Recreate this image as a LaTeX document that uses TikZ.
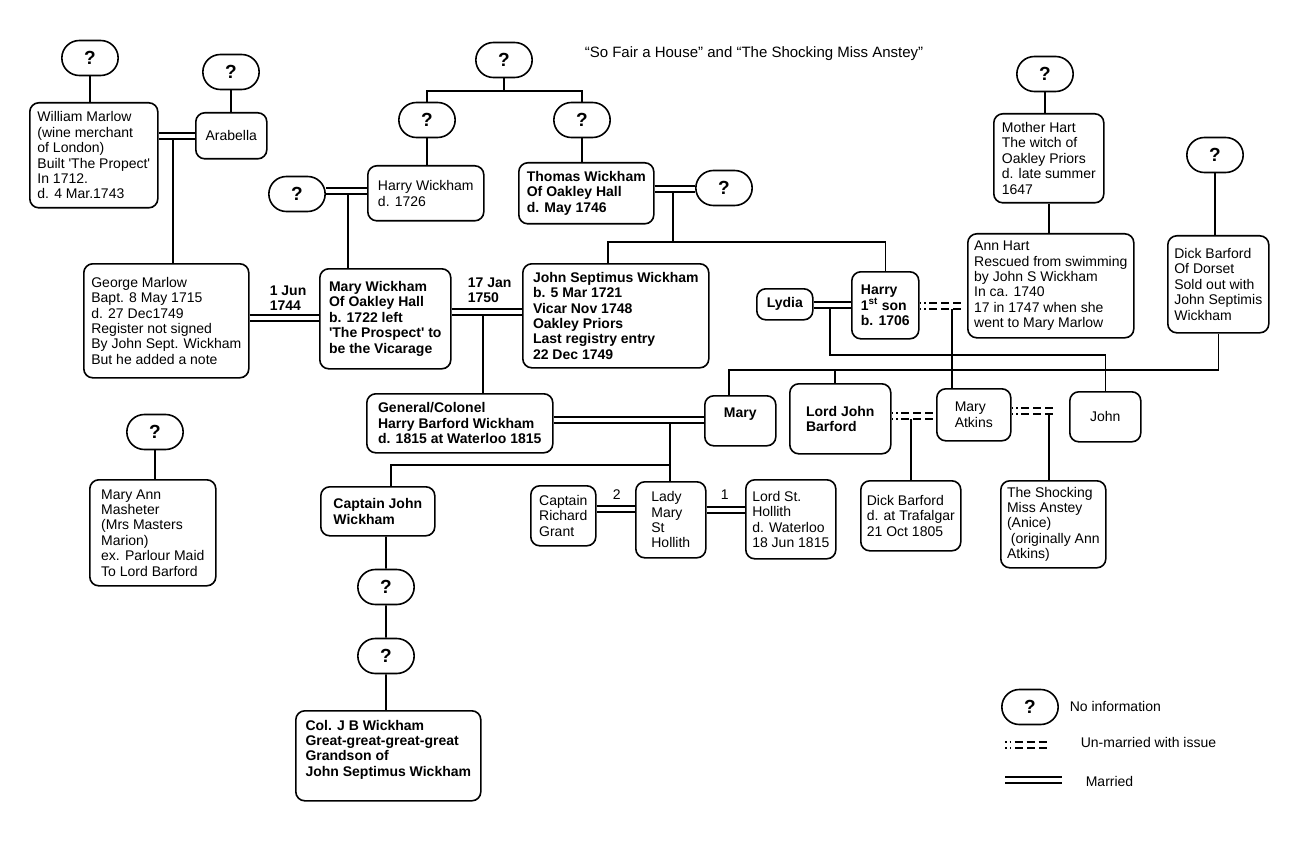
\documentclass[tikz,border=0pt]{standalone}
\usepackage{fontspec}
\newfontfamily\arialf{Liberation Sans}
\usetikzlibrary{shapes.misc}

\newcommand{\fsz}{\arialf\fontsize{14}{15.4}\selectfont}

\tikzset{
  person/.style={draw, rounded corners=9pt, line width=1.6pt, anchor=north west, align=left, inner xsep=2pt, inner ysep=2pt},
  bold/.style={font=\fsz\bfseries},
  qbox/.style={draw, rounded rectangle, line width=1.6pt, minimum width=63pt, minimum height=35pt, font=\arialf\fontsize{19}{20}\selectfont\bfseries},
  lbl/.style={anchor=west, inner sep=0pt, align=left},
  married/.style={double, double distance=4.3pt, line width=1.5pt},
  unwed/.style={married, dash pattern=on 1.5pt off 3pt on 1.5pt off 3.5pt on 8pt off 4pt on 8pt off 4pt on 8pt off 60pt}
}

\begin{document}
\begin{tikzpicture}[x=1pt, y=-1pt, line width=1.6pt, font=\fsz]
        \useasboundingbox (0,0) rectangle (1300,850);

        % заголовок
        \node[lbl, font=\arialf\fontsize{15}{17}\selectfont] (title) at (584,54) {“So Fair a House” and “The Shocking Miss Anstey”};

        % Марлоу
        \node[qbox] (q1) at (90,58) {?};
        \node[qbox] (q2) at (231,72) {?};
        \node[person, minimum width=128pt, minimum height=105pt] (wm) at (29,102) {William Marlow\\(wine merchant\\of London)\\Built 'The Propect'\\In 1712.\\d. 4 Mar.1743};
        \node[person, minimum width=71pt, minimum height=46pt] (ar) at (195,112) {Arabella};
        \node[person, minimum width=165pt, minimum height=114pt] (gm) at (83,263) {George Marlow\\Bapt. 8 May 1715\\d. 27 Dec1749\\Register not signed\\By John Sept. Wickham\\But he added a note};

        % Уикхемы
        \node[qbox] (q3) at (504,60) {?};
        \node[qbox] (q4) at (427,120) {?};
        \node[qbox] (q5) at (582,120) {?};
        \node[qbox] (q6) at (297,194) {?};
        \node[qbox] (q7) at (724,188) {?};
        \node[person, minimum width=116pt, minimum height=55pt] (hw) at (367,165) {Harry Wickham\\d. 1726};
        \node[person, bold, minimum width=135pt, minimum height=61pt] (th) at (518,162) {Thomas Wickham\\Of Oakley Hall\\d. May 1746};
        \node[person, bold, minimum width=131pt, minimum height=100pt] (mw) at (319,268) {Mary Wickham\\Of Oakley Hall\\b. 1722 left\\'The Prospect' to\\be the Vicarage};
        \node[person, bold, minimum width=186pt, minimum height=104pt] (js) at (522,263) {John Septimus Wickham\\b. 5 Mar 1721\\Vicar Nov 1748\\Oakley Priors\\Last registry entry\\22 Dec 1749};
        \node[person, bold, minimum width=56pt, minimum height=31pt] (ly) at (756,288) {Lydia};
        \node[person, bold, minimum width=67pt, minimum height=67pt] (ha) at (851,271) {Harry\\1\textsuperscript{st} son\\b. 1706};

        % даты свадеб
        \node[lbl, bold] (d1) at (269,298) {1 Jun\\1744};
        \node[lbl, bold] (d2) at (467,290) {17 Jan\\1750};

        % Харты
        \node[qbox] (q8) at (1045,74) {?};
        \node[person, minimum width=110pt, minimum height=89pt] (mh) at (993,113) {Mother Hart\\The witch of\\Oakley Priors\\d. late summer\\1647};
        \node[person, minimum width=166pt, minimum height=104pt] (ah) at (967,233) {Ann Hart\\Rescued from swimming\\by John S Wickham\\In ca. 1740\\17 in 1747 when she\\went to Mary Marlow};

        % Барфорды
        \node[qbox] (q9) at (1215,155) {?};
        \node[person, minimum width=101pt, minimum height=97pt] (dd) at (1167,235) {Dick Barford\\Of Dorset\\Sold out with\\John Septimis\\Wickham};
        \node[person, bold, minimum width=186pt, minimum height=59pt] (gen) at (366,393) {General/Colonel\\Harry Barford Wickham\\d. 1815 at Waterloo 1815};
        \node[person, bold, minimum width=71pt, minimum height=50pt] (my) at (704,395) {Mary\\\mbox{}};
        \node[person, bold, minimum width=101pt, minimum height=70pt] (lj) at (789,383) {Lord John\\Barford};
        \node[person, minimum width=74pt, minimum height=52pt] (ma) at (936,388) {Mary\\Atkins};
        \node[person, minimum width=71pt, minimum height=50pt] (jo) at (1069,391) {John};
        \node[person, minimum width=100pt, minimum height=70pt] (dbt) at (860,480) {Dick Barford\\d. at Trafalgar\\21 Oct 1805};
        \node[person, minimum width=105pt, minimum height=87pt] (msa) at (1000,480) {The Shocking\\Miss Anstey\\(Anice)\\\ (originally Ann\\Atkins)};

        % дети генерала
        \node[person, bold, minimum width=114pt, minimum height=49pt] (cj) at (320,486) {Captain John\\Wickham};
        \node[qbox] (q10) at (386,587) {?};
        \node[qbox] (q11) at (386,656) {?};
        \node[person, bold, minimum width=185pt, minimum height=90pt] (cjb) at (295,710) {Col. J B Wickham\\Great-great-great-great\\Grandson of\\John Septimus Wickham\\\mbox{}};
        \node[person, minimum width=65pt, minimum height=60pt] (cr) at (530,485) {Captain\\Richard\\Grant};
        \node[person, minimum width=70pt, minimum height=76pt] (lm) at (635,481) {Lady\\Mary\\St\\Hollith};
        \node[person, minimum width=90pt, minimum height=79pt] (ls) at (745,479) {Lord St.\\Hollith\\d. Waterloo\\18 Jun 1815};
        \node[lbl] (n2) at (612,495) {2};
        \node[lbl] (n1) at (720,495) {1};

        % Мэри Энн
        \node[qbox] (q12) at (155,432) {?};
        \node[person, minimum width=126pt, minimum height=106pt] (mann) at (89,479) {Mary Ann\\Masheter\\(Mrs Masters\\Marion)\\ex. Parlour Maid\\To Lord Barford};

        % линии к детям
        \coordinate (wa) at (173,136);
        \coordinate (t1) at (504,91);
        \coordinate (hm) at (348,191);
        \coordinate (tq) at (673,189);
        \coordinate (t3) at (608,242);
        \coordinate (mj) at (483,312);
        \coordinate (lh) at (830,305);
        \coordinate (t4) at (830,355);
        \coordinate (hh) at (952,309);
        \coordinate (t5) at (729,370);
        \coordinate (t6) at (835,370);
        \coordinate (gy) at (670,420);
        \coordinate (t7) at (670,465);
        \coordinate (t8) at (391,465);
        \coordinate (la) at (911,419);
        \coordinate (aj) at (1049,414);

        \draw (q1.south) -- (q1.south |- wm.north);
        \draw (q2.south) -- (q2.south |- ar.north);
        \draw (wa) -- (wa |- gm.north);
        \draw (q3.south) -- (t1);
        \draw (q4.north) -- (q4.north |- t1) -- (q5.north |- t1) -- (q5.north);
        \draw (q4.south) -- (q4.south |- hw.north);
        \draw (q5.south) -- (q5.south |- th.north);
        \draw (hm) -- (hm |- mw.north);
        \draw (tq) -- (tq |- t3);
        \draw (t3 |- js.north) -- (t3) -- (ha.north |- t3) -- (ha.north);
        \draw (mj) -- (mj |- gen.north);
        \draw (lh) -- (t4) -- (jo.north |- t4) -- (jo.north);
        \draw (hh) -- (hh |- ma.north);
        \draw (q8.south) -- (q8.south |- mh.north);
        \draw (mh.south) -- (mh.south |- ah.north);
        \draw (q9.south) -- (q9.south |- dd.north);
        \draw (dd.south) -- (dd.south |- t5) -- (t5) -- (t5 |- my.north);
        \draw (t6) -- (t6 |- lj.north);
        \draw (gy) -- (t7) -- (t7 |- lm.north);
        \draw (t7) -- (t8) -- (t8 |- cj.north);
        \draw (cj.south -| q10) -- (q10) -- (q11) -- (q11 |- cjb.north);
        \draw (q12.south) -- (q12.south |- mann.north);
        \draw (la) -- (la |- dbt.north);
        \draw (aj) -- (aj |- msa.north);

        % браки
        \draw[married] (wm.east |- 0,136) -- (ar.west |- 0,136);
        \draw[married] (q6.east |- 0,191) -- (hw.west |- 0,191);
        \draw[married] (th.east |- 0,189) -- (q7.west |- 0,189);
        \draw[married] (gm.east |- 0,318) -- (mw.west |- 0,318);
        \draw[married] (mw.east |- 0,312) -- (js.west |- 0,312);
        \draw[married] (ly.east |- 0,305) -- (ha.west |- 0,305);
        \draw[married] (gen.east |- 0,420) -- (my.west |- 0,420);
        \draw[married] (cr.east |- 0,509) -- (lm.west |- 0,509);
        \draw[married] (lm.east |- 0,510) -- (ls.west |- 0,510);

        % без брака
        \draw[unwed] (ha.east |- 0,306) -- (ah.west |- 0,306);
        \draw[unwed] (lj.east |- 0,416) -- (ma.west |- 0,416);
        \draw[unwed] (ma.east |- 0,411) -- (jo.west |- 0,411);

        % легенда
        \node[qbox] (ql) at (1030,707) {?};
        \node[lbl] (lq) at (1069,706) {No information};
        \coordinate (u1) at (1005,745);
        \coordinate (u2) at (1055,745);
        \draw[unwed] (u1) -- (u2);
        \node[lbl] (lu) at (1080,742) {Un-married with issue};
        \coordinate (m1) at (1005,780);
        \coordinate (m2) at (1062,780);
        \draw[married] (m1) -- (m2);
        \node[lbl] (lm0) at (1085,781) {Married};
\end{tikzpicture}
\end{document}
